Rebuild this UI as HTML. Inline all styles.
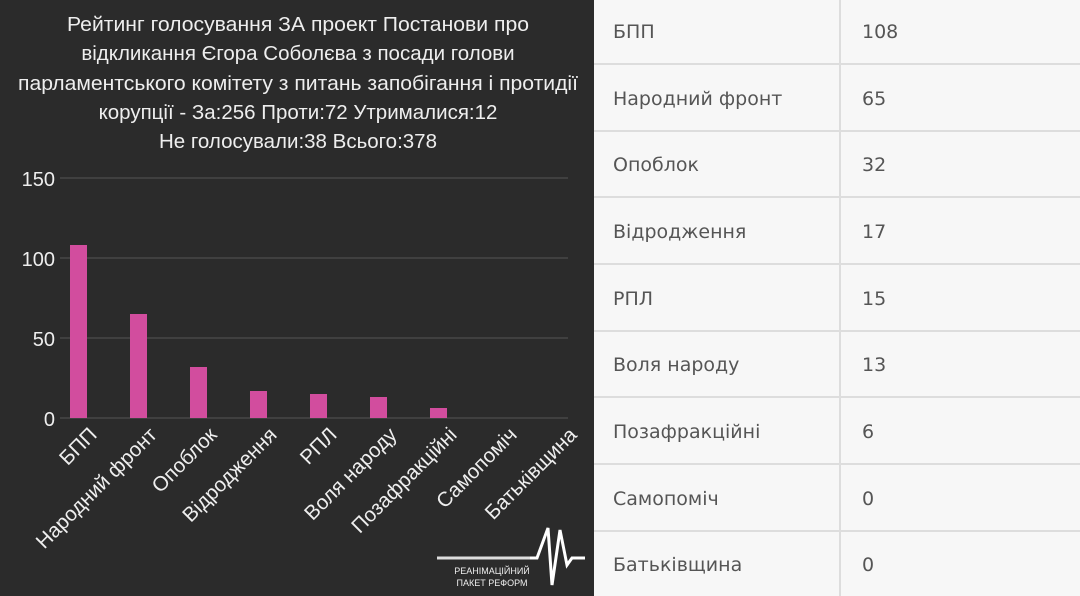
<!DOCTYPE html>
<html><head><meta charset="utf-8"><style>
html,body{margin:0;padding:0;width:1080px;height:596px;overflow:hidden;background:#f7f7f7}
svg{display:block}
</style></head><body>
<svg width="1080" height="596" xmlns="http://www.w3.org/2000/svg" font-family="Liberation Sans, DejaVu Sans, sans-serif">
<rect x="0" y="0" width="1080" height="596" fill="#f7f7f7"/>
<rect x="0" y="0" width="594" height="596" fill="#2b2b2b"/>
<g fill="#eeeeee" font-size="20.5" text-anchor="middle">
<text x="298" y="31" textLength="462" lengthAdjust="spacingAndGlyphs">Рейтинг голосування ЗА проект Постанови про</text>
<text x="298" y="60">відкликання Єгора Соболєва з посади голови</text>
<text x="298" y="90" textLength="560" lengthAdjust="spacingAndGlyphs">парламентського комітету з питань запобігання і протидії</text>
<text x="298" y="119">корупції - За:256 Проти:72 Утрималися:12</text>
<text x="298" y="148">Не голосували:38 Всього:378</text>
</g>
<g stroke="#555" stroke-width="1">
<line x1="60" y1="178" x2="568" y2="178"/>
<line x1="60" y1="258" x2="568" y2="258"/>
<line x1="60" y1="338" x2="568" y2="338"/>
<line x1="60" y1="418" x2="568" y2="418"/>
</g>
<g fill="#eeeeee" font-size="20" text-anchor="end">
<text x="55" y="186">150</text>
<text x="55" y="266">100</text>
<text x="55" y="346">50</text>
<text x="55" y="426">0</text>
</g>
<g fill="#d24d9e">
<rect x="70" y="245" width="17" height="173"/>
<rect x="130" y="314" width="17" height="104"/>
<rect x="190" y="367" width="17" height="51"/>
<rect x="250" y="391" width="17" height="27"/>
<rect x="310" y="394" width="17" height="24"/>
<rect x="370" y="397" width="17" height="21"/>
<rect x="430" y="408" width="17" height="10"/>
</g>
<g fill="#eeeeee" font-size="20.5" text-anchor="end">
<text transform="translate(98,436) rotate(-45)">БПП</text>
<text transform="translate(158,436) rotate(-45)">Народний фронт</text>
<text transform="translate(218,436) rotate(-45)">Опоблок</text>
<text transform="translate(278,436) rotate(-45)">Відродження</text>
<text transform="translate(338,436) rotate(-45)">РПЛ</text>
<text transform="translate(398,436) rotate(-45)">Воля народу</text>
<text transform="translate(458,436) rotate(-45)">Позафракційні</text>
<text transform="translate(518,436) rotate(-45)">Самопоміч</text>
<text transform="translate(578,436) rotate(-45)">Батьківщина</text>
</g>
<line x1="437" y1="558" x2="530" y2="558" stroke="#ddd" stroke-width="3"/>
<polyline points="530,558 537,558 548,528 552,585 560,530 567,565 572,558 585,558" fill="none" stroke="#fff" stroke-width="3"/>
<g fill="#eee" font-size="9" text-anchor="middle">
<text x="492" y="574">РЕАНІМАЦІЙНИЙ</text>
<text x="492" y="586">ПАКЕТ РЕФОРМ</text>
</g>
<g stroke="#dddddd" stroke-width="2">
<line x1="840" y1="0" x2="840" y2="596"/>
<line x1="594" y1="64" x2="1080" y2="64"/>
<line x1="594" y1="131" x2="1080" y2="131"/>
<line x1="594" y1="197" x2="1080" y2="197"/>
<line x1="594" y1="264" x2="1080" y2="264"/>
<line x1="594" y1="331" x2="1080" y2="331"/>
<line x1="594" y1="397" x2="1080" y2="397"/>
<line x1="594" y1="464" x2="1080" y2="464"/>
<line x1="594" y1="531" x2="1080" y2="531"/>
</g>
<g fill="#555" font-size="19" font-family="DejaVu Sans, Liberation Sans, sans-serif">
<text x="613" y="38">БПП</text><text x="862" y="38">108</text>
<text x="613" y="105">Народний фронт</text><text x="862" y="105">65</text>
<text x="613" y="171">Опоблок</text><text x="862" y="171">32</text>
<text x="613" y="238">Відродження</text><text x="862" y="238">17</text>
<text x="613" y="305">РПЛ</text><text x="862" y="305">15</text>
<text x="613" y="371">Воля народу</text><text x="862" y="371">13</text>
<text x="613" y="438">Позафракційні</text><text x="862" y="438">6</text>
<text x="613" y="505">Самопоміч</text><text x="862" y="505">0</text>
<text x="613" y="571">Батьківщина</text><text x="862" y="571">0</text>
</g>
</svg>
</body></html>
